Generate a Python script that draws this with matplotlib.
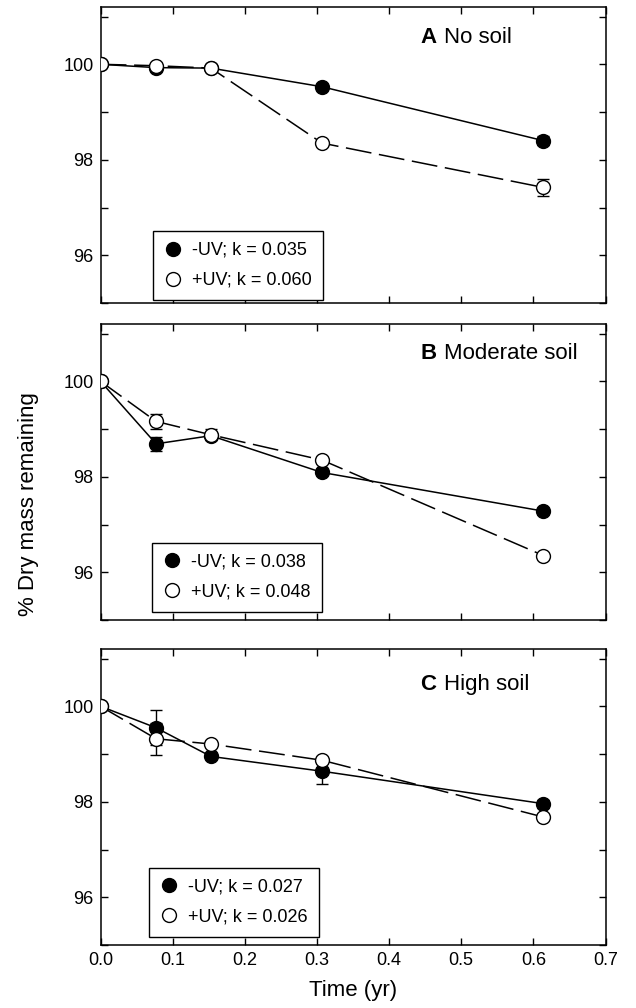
import matplotlib
matplotlib.use('Agg')
import matplotlib.pyplot as plt
from matplotlib.lines import Line2D
from matplotlib.ticker import FixedLocator, FuncFormatter

plt.rcParams['font.family'] = ['Liberation Sans', 'DejaVu Sans']

# sampling times (yr)
time = [0.0, 0.077, 0.153, 0.307, 0.614]

# panel A - no soil
a_minus = [100.0, 99.93, 99.92, 99.53, 98.40]
a_minus_err = [0.0, 0.03, 0.03, 0.04, 0.1]
a_plus = [100.0, 99.97, 99.92, 98.35, 97.42]
a_plus_err = [0.0, 0.03, 0.03, 0.04, 0.18]

# panel B - moderate soil
b_minus = [100.0, 98.69, 98.86, 98.09, 97.28]
b_minus_err = [0.0, 0.14, 0.05, 0.05, 0.05]
b_plus = [100.0, 99.16, 98.88, 98.35, 96.35]
b_plus_err = [0.0, 0.15, 0.12, 0.05, 0.05]

# panel C - high soil
c_minus = [100.0, 99.55, 98.95, 98.64, 97.96]
c_minus_err = [0.0, 0.37, 0.05, 0.26, 0.08]
c_plus = [100.0, 99.32, 99.21, 98.87, 97.68]
c_plus_err = [0.0, 0.33, 0.05, 0.05, 0.05]

panels = [
    ('A', 'No soil', a_minus, a_minus_err, a_plus, a_plus_err, ('0.035', '0.060')),
    ('B', 'Moderate soil', b_minus, b_minus_err, b_plus, b_plus_err, ('0.038', '0.048')),
    ('C', 'High soil', c_minus, c_minus_err, c_plus, c_plus_err, ('0.027', '0.026')),
]
title_y = [100.57, 100.59, 100.45]
legend_pos = [(0.104, 0.01), (0.102, 0.027), (0.096, 0.027)]

fig = plt.figure(figsize=(6.36, 10.08), dpi=100)
left, width = 100.5 / 636, 505 / 636
tops = [7, 324, 649]
axes = []
for t in tops:
    ax = fig.add_axes([left, 1 - (t + 296) / 1008, width, 296 / 1008])
    axes.append(ax)

for i, (ax, p) in enumerate(zip(axes, panels)):
    letter, name, ym, yme, yp, ype, ks = p
    ax.errorbar(time, ym, yerr=yme, color='black', lw=1.1, marker='o', ms=10,
                mfc='black', mec='black', mew=1, capsize=4, elinewidth=1,
                capthick=1, zorder=3)
    ax.errorbar(time, yp, yerr=ype, color='black', lw=1.1, ls=(0, (17, 5)),
                marker='o', ms=10, mfc='white', mec='black', mew=1,
                capsize=4, elinewidth=1, capthick=1, zorder=4)
    ax.set_xlim(0, 0.7)
    ax.set_ylim(95, 101.2)
    ax.yaxis.set_major_locator(FixedLocator([95, 96, 97, 98, 99, 100, 101]))
    ax.yaxis.set_major_formatter(FuncFormatter(
        lambda v, pos: '%d' % v if round(v) in (96, 98, 100) else ''))
    ax.set_xticks([0, 0.1, 0.2, 0.3, 0.4, 0.5, 0.6, 0.7])
    ax.tick_params(direction='in', top=True, right=True, length=5, width=1,
                   labelsize=13, pad=5)
    for s in ax.spines.values():
        s.set_linewidth(1.1)
    ax.text(0.443, title_y[i], letter, fontsize=16, fontweight='bold',
            va='center', ha='left')
    ax.text(0.476, title_y[i], name, fontsize=16, va='center', ha='left')
    handles = [
        Line2D([], [], ls='none', marker='o', ms=10, mfc='black', mec='black'),
        Line2D([], [], ls='none', marker='o', ms=10, mfc='white', mec='black'),
    ]
    labels = ['-UV; k = ' + ks[0], '+UV; k = ' + ks[1]]
    leg = ax.legend(handles, labels, loc='lower left', bbox_to_anchor=legend_pos[i],
                    borderaxespad=0, fancybox=False, edgecolor='black',
                    framealpha=1, fontsize=13, handletextpad=0.55,
                    borderpad=0.62, labelspacing=0.72, handlelength=1.0)
    leg.get_frame().set_linewidth(1)
    if i < 2:
        ax.set_xticklabels([])
    else:
        ax.set_xticklabels(['0.0', '0.1', '0.2', '0.3', '0.4', '0.5', '0.6', '0.7'])
        ax.set_xlabel('Time (yr)', fontsize=16, labelpad=8)

fig.text(0.045, 0.5, '% Dry mass remaining', rotation=90, fontsize=16,
         va='center', ha='center')

fig.savefig('out.png', dpi=100)
